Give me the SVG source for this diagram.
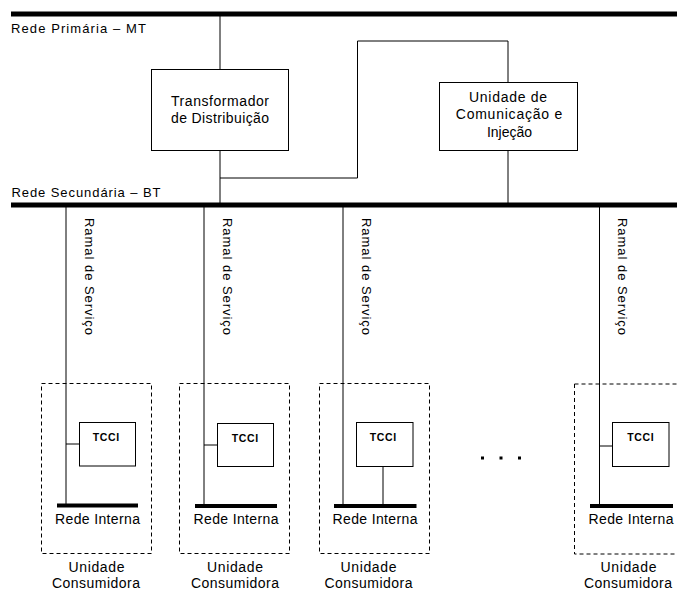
<svg xmlns="http://www.w3.org/2000/svg" width="677" height="592" viewBox="0 0 677 592">
<style>
text{font-family:"Liberation Sans",Arial,sans-serif;font-size:13px;fill:#000}
.c{text-anchor:middle}
.b{font-size:14px}
.box{fill:#fff;stroke:#000;stroke-width:1}
.bus{stroke:#000;stroke-width:5}
.ibus{stroke:#000;stroke-width:4}
.ln{stroke:#000;stroke-width:1;fill:none}
.dash{fill:none;stroke:#000;stroke-width:1;stroke-dasharray:4,3}
.tc{font-size:10.5px;font-weight:bold;text-anchor:middle}
</style>
<rect width="677" height="592" fill="#fff"/>
<g id="rede-primaria">
<line class="bus" x1="11" y1="14" x2="677" y2="14"/>
<text x="11" y="33" textLength="135">Rede Primária – MT</text>
</g>
<g id="rede-secundaria">
<line class="bus" x1="11" y1="205" x2="677" y2="205"/>
<text x="11.5" y="197" textLength="149">Rede Secundária – BT</text>
</g>
<g id="connectors">
<path class="ln" d="M220,14V69"/>
<path class="ln" d="M220,151V203"/>
<path class="ln" d="M220,178H357.5V41H508V82.5"/>
<path class="ln" d="M508,151V203"/>
<path class="ln" d="M66,207V506"/>
<path class="ln" d="M204,207V506"/>
<path class="ln" d="M343,207V506"/>
<path class="ln" d="M599.5,207V506"/>
<path class="ln" d="M66,444H79"/>
<path class="ln" d="M204,445H217.5"/>
<path class="ln" d="M383,466.5V505"/>
<path class="ln" d="M599.5,446H612.5"/>
</g>
<g id="transformador">
<rect class="box" x="151.5" y="69.5" width="137" height="81"/>
<text class="c b" x="220" y="106" textLength="98">Transformador</text>
<text class="c b" x="220" y="123" textLength="98">de Distribuição</text>
</g>
<g id="uci">
<rect class="box" x="439.5" y="82.5" width="138" height="68"/>
<text class="c b" x="508" y="101.5" textLength="78">Unidade de</text>
<text class="c b" x="509" y="119" textLength="106.5">Comunicação e</text>
<text class="c b" x="509.5" y="136.5" textLength="45">Injeção</text>
</g>
<g id="ramais">
<text transform="translate(84.5,218) rotate(90)" textLength="117">Ramal de Serviço</text>
<text transform="translate(223,218) rotate(90)" textLength="117">Ramal de Serviço</text>
<text transform="translate(361.5,218) rotate(90)" textLength="117">Ramal de Serviço</text>
<text transform="translate(617.5,218) rotate(90)" textLength="117">Ramal de Serviço</text>
</g>
<g id="uc1">
<rect class="dash" x="41.5" y="383.5" width="110" height="170"/>
<rect class="box" x="79.5" y="422.5" width="56" height="43.5"/>
<text class="tc" x="106" y="440.5" textLength="26.5">TCCI</text>
<line class="ibus" x1="57" y1="505.5" x2="138" y2="505.5"/>
<text class="b" x="55" y="523.5" textLength="85">Rede Interna</text>
<text class="c b" x="96.5" y="572" textLength="56">Unidade</text>
<text class="c b" x="96" y="588" textLength="88">Consumidora</text>
</g>
<g id="uc2">
<rect class="dash" x="179.5" y="383.5" width="110" height="170"/>
<rect class="box" x="217.5" y="423.5" width="56" height="43"/>
<text class="tc" x="245" y="441.5" textLength="26.5">TCCI</text>
<line class="ibus" x1="195" y1="506" x2="277" y2="506"/>
<text class="b" x="193.5" y="524" textLength="85">Rede Interna</text>
<text class="c b" x="235" y="572" textLength="56">Unidade</text>
<text class="c b" x="235" y="588" textLength="88">Consumidora</text>
</g>
<g id="uc3">
<rect class="dash" x="319.5" y="383.5" width="110" height="170"/>
<rect class="box" x="356.5" y="422.5" width="56.5" height="44"/>
<text class="tc" x="383" y="440.5" textLength="26.5">TCCI</text>
<line class="ibus" x1="334" y1="506" x2="416.5" y2="506"/>
<text class="b" x="332.5" y="524" textLength="85">Rede Interna</text>
<text class="c b" x="368.5" y="572" textLength="56">Unidade</text>
<text class="c b" x="368.5" y="588" textLength="88">Consumidora</text>
</g>
<g id="reticencias">
<rect x="481" y="456.5" width="3" height="3"/>
<rect x="499.5" y="456.5" width="3" height="3"/>
<rect x="518" y="456.5" width="3" height="3"/>
</g>
<g id="uc4">
<rect class="dash" x="574.5" y="384" width="112" height="170"/>
<rect class="box" x="612.5" y="422.5" width="56.5" height="44"/>
<text class="tc" x="640.5" y="440.5" textLength="26.5">TCCI</text>
<line class="ibus" x1="590" y1="506" x2="673" y2="506"/>
<text class="b" x="588.5" y="524" textLength="85">Rede Interna</text>
<text class="c b" x="628.5" y="572" textLength="56">Unidade</text>
<text class="c b" x="628" y="588" textLength="88">Consumidora</text>
</g>
</svg>
